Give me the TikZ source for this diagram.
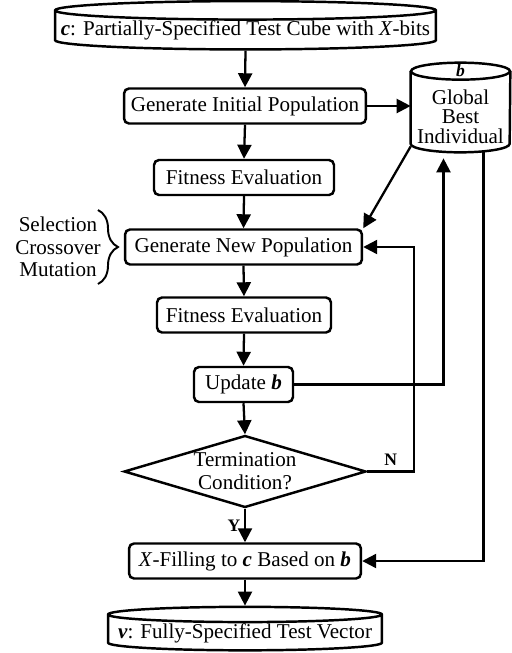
\documentclass[tikz,border=0pt]{standalone}
\usepackage{fontspec}
\setmainfont{Liberation Serif}
\usetikzlibrary{calc,arrows.meta,shapes.geometric,decorations.pathreplacing}

\tikzset{
  box/.style={draw, rounded corners=0.1cm, line width=1.4pt, minimum height=0.7cm, inner sep=0pt},
  store/.style={draw, cylinder, shape border rotate=90, line width=1.4pt, inner sep=0pt},
  flow/.style={-{Triangle[length=0.28cm,width=0.28cm]}, line width=1.3pt},
}

\begin{document}
\begin{tikzpicture}[x=0.02cm, y=-0.02cm, font=\fontsize{12}{13}\selectfont]
  \useasboundingbox (0,0) rectangle (511,653);

  % Main column
  \node[store, minimum width=7.62cm, minimum height=0.8cm, aspect=0.05] (cube) at (245.5,30.5)
    {\textbf{\textit{c}}: Partially-Specified Test Cube with \textit{X}-bits};
  \node[box, minimum width=4.84cm] (gip) at (245,106) {Generate Initial Population};
  \node[box, minimum width=3.6cm] (fit1) at (244,177.5) {Fitness Evaluation};
  \node[box, minimum width=4.74cm] (gnp) at (243.5,247) {Generate New Population};
  \node[box, minimum width=3.48cm] (fit2) at (244,315) {Fitness Evaluation};
  \node[box, minimum width=1.98cm] (upd) at (243.5,384.5) {Update \textbf{\textit{b}}};
  \node[draw, diamond, line width=1.4pt, aspect=3.34, minimum width=4.84cm, minimum height=1.44cm,
    inner sep=0pt, align=center] (term) at (245,471.5) {Termination\\Condition?};
  \node[box, minimum width=4.64cm] (xf) at (245,561)
    {\textit{X}-Filling to \textbf{\textit{c}} Based on \textbf{\textit{b}}};
  \node[store, minimum width=5.48cm, minimum height=0.8cm, aspect=0.06] (vec) at (245,633)
    {\textbf{\textit{v}}: Fully-Specified Test Vector};

  % Global best store
  \node[minimum width=1.98cm, minimum height=1.78cm, inner sep=0pt] (best) at (460.5,107.5) {};
  \draw[line width=1.4pt] ($(best.north)+(0,8.5)$) ellipse [x radius=0.99cm, y radius=0.17cm];
  \draw[line width=1.4pt] ($(best.north west)+(0,8.5)$) -- ($(best.south west)+(0,-8.5)$)
    arc[start angle=180, end angle=360, x radius=0.99cm, y radius=0.17cm]
    -- ($(best.north east)+(0,8.5)$);
  \node[font=\bfseries\itshape] (btag) at ($(best.north)+(0,8)$) {b};
  \node[align=center, font=\fontsize{12}{11}\selectfont] (btxt) at ($(best.center)+(0,9)$)
    {Global\\Best\\Individual};

  % GA operators
  \node[align=center, font=\fontsize{12}{12.8}\selectfont] (ops) at (58,247) {Selection\\Crossover\\Mutation};
  \draw[decorate, decoration={brace, amplitude=0.4cm}, line width=1.1pt] (98,210) -- (98,284);

  \draw[flow] (cube.south) -- (gip.north);
  \draw[flow] (gip.east) -- (best.west |- gip.east);
  \draw[flow] (gip.south) -- (fit1.north);
  \draw[flow] (fit1.south) -- (gnp.north);
  \draw[flow] (best.218) -- (gnp.north east);
  \draw[flow] (gnp.south) -- (fit2.north);
  \draw[flow] (fit2.south) -- (upd.north);
  \draw[flow] (upd.south) -- (term.north);
  \draw[flow] (term.south) -- node[left, inner sep=2pt, font=\bfseries] {Y} (xf.north);
  \draw[flow] (xf.south) -- (vec.north);

  % Loops back
  \draw[flow] (term.east) -- node[above, inner sep=3pt, font=\bfseries] {N} ++(47,0) |- (gnp.east);
  \draw[flow] (upd.east) -| ($(best.south)+(-17,6)$);
  \draw[flow] ($(best.south)+(23,-1)$) |- (xf.east);
\end{tikzpicture}
\end{document}
